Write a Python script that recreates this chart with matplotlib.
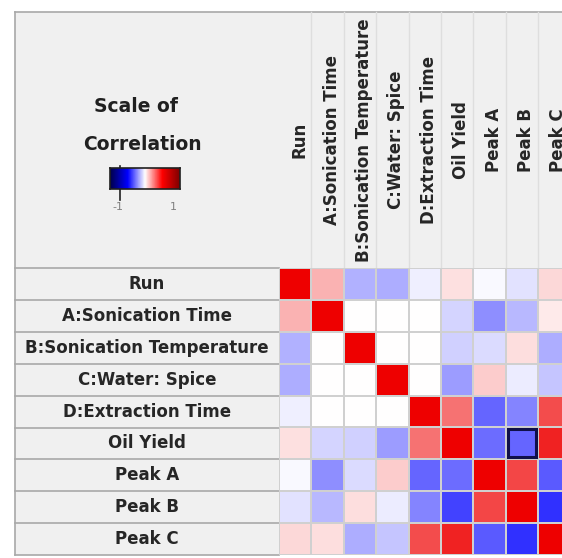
import numpy as np
import matplotlib
matplotlib.use("Agg")
import matplotlib.pyplot as plt
from matplotlib.colors import LinearSegmentedColormap
from matplotlib.patches import Rectangle

labels = ["Run", "A:Sonication Time", "B:Sonication Temperature", "C:Water: Spice",
          "D:Extraction Time", "Oil Yield", "Peak A", "Peak B", "Peak C"]

# correlation values (rows in label order)
corr = [
    [1.00, 0.30, -0.33, -0.35, -0.07, 0.12, -0.03, -0.12, 0.15],
    [0.30, 1.00, 0.00, 0.00, 0.00, -0.18, -0.48, -0.30, 0.08],
    [-0.33, 0.00, 1.00, 0.00, 0.00, -0.20, -0.15, 0.13, -0.35],
    [-0.35, 0.00, 0.00, 1.00, 0.00, -0.42, 0.20, -0.08, -0.25],
    [-0.07, 0.00, 0.00, 0.00, 1.00, 0.55, -0.65, -0.52, 0.70],
    [0.12, -0.18, -0.20, -0.42, 0.55, 1.00, -0.62, -0.65, 0.86],
    [-0.03, -0.48, -0.15, 0.20, -0.65, -0.62, 1.00, 0.72, -0.70],
    [-0.12, -0.30, 0.13, -0.08, -0.52, -0.80, 0.72, 1.00, -0.88],
    [0.15, 0.13, -0.35, -0.25, 0.70, 0.86, -0.70, -0.88, 1.00],
]
selected = (5, 7)  # Oil Yield row, Peak B column

W, H = 562, 558
x0, y0 = 279, 268          # top-left of the cell grid
cw, ch = 32.4, 31.9        # cell size in px
n = len(labels)

cmap = LinearSegmentedColormap.from_list("bwr2", ["#1414ff", "#ffffff", "#ee0000"])

fig = plt.figure(figsize=(W / 100, H / 100), dpi=100)
fig.patch.set_facecolor("white")

bg = fig.add_axes([0, 0, 1, 1])
bg.set_xlim(0, W)
bg.set_ylim(H, 0)
bg.axis("off")

# header panel and row label column
bg.add_patch(Rectangle((15, 12), W - 15, y0 - 12, facecolor="#f0f0f0", edgecolor="none"))
bg.add_patch(Rectangle((15, y0), x0 - 15, ch * n, facecolor="#f0f0f0", edgecolor="none"))
bg.plot([15, W], [12, 12], color="#a8a8a8", lw=1.2)
bg.plot([15, 15], [12, y0 + ch * n], color="#a8a8a8", lw=1.2)
for k in range(1, n):
    bg.plot([x0 + cw * k, x0 + cw * k], [12, y0], color="#dedede", lw=1)
for k in range(n + 1):
    bg.plot([15, x0], [y0 + ch * k, y0 + ch * k], color="#a8a8a8", lw=1.2)

# row labels
for i, lab in enumerate(labels):
    bg.text((15 + x0) / 2, y0 + ch * (i + 0.5), lab, ha="center", va="center",
            fontsize=12, fontweight="bold", color="#262626", family="DejaVu Sans")
# column labels
for j, lab in enumerate(labels):
    bg.text(x0 + cw * (j + 0.5) + 4, 140, lab, ha="center", va="center", rotation=90,
            fontsize=12, fontweight="bold", color="#262626", family="DejaVu Sans")

# scale legend
bg.text(136, 107, "Scale of", ha="center", va="center", fontsize=13.5,
        fontweight="bold", color="#202020")
bg.text(142, 144, "Correlation", ha="center", va="center", fontsize=13.5,
        fontweight="bold", color="#202020")
cax = fig.add_axes([110 / W, 1 - 189 / H, 70 / W, 21 / H])
cax.imshow(np.linspace(-1, 1, 100)[None, :], aspect="auto", cmap="seismic",
           extent=[-1, 1, 0, 1])
cax.set_xticks([])
cax.set_yticks([])
for s in cax.spines.values():
    s.set_color("#202020")
    s.set_linewidth(1.2)
bg.plot([120, 120], [166, 200], color="#202020", lw=1.2)
bg.text(118, 207, "-1", ha="center", va="center", fontsize=8, color="#808080")
bg.text(173, 207, "1", ha="center", va="center", fontsize=8, color="#808080")

# heat map cells
ax = fig.add_axes([x0 / W, 1 - (y0 + ch * n) / H, (W - x0) / W, ch * n / H])
edges = np.arange(n + 1) - 0.5
ax.pcolormesh(edges, edges, np.array(corr), cmap=cmap, vmin=-1, vmax=1,
              edgecolors="#d0d0d0", linewidth=1.2)
r, c = selected
ax.add_patch(Rectangle((c - 0.5 + 0.06, r - 0.5 + 0.06), 0.88, 0.88, fill=False,
                       edgecolor="#10104a", lw=2.2))
ax.set_xlim(-0.5, -0.5 + (W - x0) / cw)
ax.set_ylim(n - 0.5, -0.5)
ax.axis("off")

fig.savefig("out.png", dpi=100)
